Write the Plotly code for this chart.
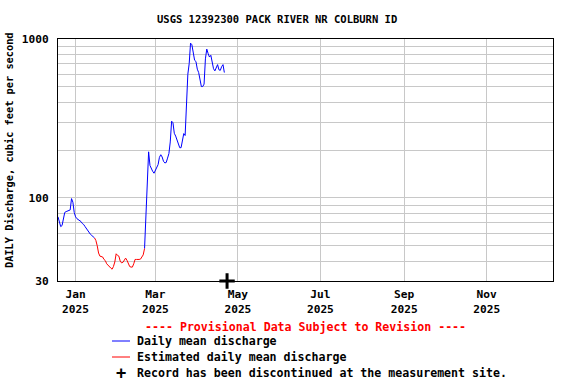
import math
import pandas as pd
import plotly.graph_objects as go

TITLE = "USGS 12392300 PACK RIVER NR COLBURN ID"
Y_LABEL = "DAILY Discharge, cubic feet per second"

start_date = "2024-12-19"
# daily mean discharge, cubic feet per second, from 2024-12-19
flow = [
    76, 70, 66, 67, 76, 81, 82, 83, 83, 84,
    99, 94, 81, 76, 74, 73, 72, 71, 69, 68,
    66, 64, 63, 61, 59, 58, 57, 56, 54, 50,
    45, 43, 42.8, 42.5, 41, 40.3, 38.5, 37.5, 37, 36.2,
    35.6, 37, 39.5, 44.5, 43.5, 43, 40, 39, 39.3, 41,
    41.8, 40.5, 39, 37, 36.7, 36.7, 38.5, 41, 41, 40.9,
    41, 41.2, 42.5, 43.8, 48, 75, 140, 195, 160, 152,
    147, 143, 150, 156, 162, 180, 187, 181, 170, 166,
    167, 178, 190, 225, 304, 297, 255, 245, 230, 215,
    207, 207, 227, 254, 247, 420, 600, 700, 942, 920,
    790, 735, 722, 646, 615, 560, 502, 502, 520, 750,
    864, 810, 770, 790, 720, 650, 630, 670, 690, 640,
    635, 670, 690, 615,
]
est_start = "2025-01-15"
est_end = "2025-02-21"

discontinued_date = ["2025-04-23"]
discontinued_y = [30]

x_range = ["2024-12-19", "2025-12-20"]
y_range = [30, 1000]
y_grid_vals = [30, 40, 50, 60, 70, 80, 90, 100, 200, 300, 400, 500, 600, 700, 800, 900, 1000]
y_tick_labels = {30: "30", 100: "100", 1000: "1000"}

legend_title = "---- Provisional Data Subject to Revision ----"
legend_names = ["Daily mean discharge", "Estimated daily mean discharge",
                "Record has been discontinued at the measurement site."]

dates = pd.date_range(start_date, periods=len(flow), freq="D")
s = pd.Series(flow, index=dates, dtype="float")
est_mask = (s.index >= est_start) & (s.index <= est_end)
blue = s.copy()
blue[(s.index > pd.Timestamp(est_start)) & (s.index < pd.Timestamp(est_end))] = None
red = s.where(est_mask)

FONT = "DejaVu Sans Mono"

fig = go.Figure()
fig.add_trace(go.Scatter(x=blue.index, y=blue.values, mode="lines", name=legend_names[0],
                         line=dict(color="#0000ff", width=1), connectgaps=False, showlegend=False))
fig.add_trace(go.Scatter(x=red.index, y=red.values, mode="lines", name=legend_names[1],
                         line=dict(color="#ff0000", width=1), connectgaps=False, showlegend=False))
fig.add_trace(go.Scatter(x=discontinued_date, y=discontinued_y, mode="markers", name=legend_names[2],
                         marker=dict(symbol="cross-thin", size=11, line=dict(color="black", width=3)),
                         cliponaxis=False, showlegend=False))

PL, PR, PT, PB = 58, 553, 39, 281  # plot area in window pixels
fig.update_layout(
    width=576, height=384,
    margin=dict(l=PL, r=576 - PR, t=PT, b=384 - PB, autoexpand=False),
    paper_bgcolor="white", plot_bgcolor="white",
    font=dict(family=FONT, size=11, color="black", weight="bold"),
    xaxis=dict(
        type="date", range=x_range, dtick="M2", tick0="2025-01-01",
        tickformat="%b<br>%Y", showgrid=True, gridcolor="#c8c8c8", gridwidth=1,
        showline=True, linecolor="black", linewidth=1, mirror=True, ticks="",
        zeroline=False, tickfont=dict(size=11.2), automargin=False, ticklabelstandoff=3,
    ),
    yaxis=dict(
        type="log", range=[math.log10(y_range[0]), math.log10(y_range[1])],
        tickvals=y_grid_vals, ticktext=[y_tick_labels.get(v, "") for v in y_grid_vals],
        showgrid=True, gridcolor="#c8c8c8", gridwidth=1,
        showline=True, linecolor="black", linewidth=1, mirror=True, ticks="",
        zeroline=False, tickfont=dict(size=11.2), ticklabelstandoff=6, automargin=False,
    ),
)

W = PR - PL
H = PB - PT

def px(xpix):
    return (xpix - PL) / W

def py(ypix):
    return (PB - ypix) / H

# title and axis label
fig.add_annotation(text=TITLE, xref="paper", yref="paper", x=px(277), y=py(19),
                   showarrow=False, xanchor="center", yanchor="middle", font=dict(size=10.5))
fig.add_annotation(text=Y_LABEL, xref="paper", yref="paper", x=px(9), y=py(150),
                   showarrow=False, xanchor="center", yanchor="middle", textangle=-90, font=dict(size=10.3))

# custom legend below plot
fig.add_annotation(text=legend_title, xref="paper", yref="paper", x=px(305.5), y=py(327),
                   showarrow=False, xanchor="center", yanchor="middle",
                   font=dict(size=11.6, color="#ff0000"))
rows = [341, 357, 373]
for name, yy in zip(legend_names, rows):
    fig.add_annotation(text=name, xref="paper", yref="paper", x=px(135), y=py(yy),
                       showarrow=False, xanchor="left", yanchor="middle", font=dict(size=11.6))
for color, yy in zip(["#0000ff", "#ff0000"], rows[:2]):
    fig.add_shape(type="line", xref="paper", yref="paper", x0=px(112), x1=px(130), y0=py(yy), y1=py(yy),
                  line=dict(color=color, width=1))
fig.add_annotation(text="+", xref="paper", yref="paper", x=px(121), y=py(rows[2]),
                   showarrow=False, xanchor="center", yanchor="middle", font=dict(size=17))

# remove the default 8px page margin so the figure sits at the window's top-left corner
fig.write_html("out.html", config={"displayModeBar": False},
               post_script="document.body.style.margin='0';")
